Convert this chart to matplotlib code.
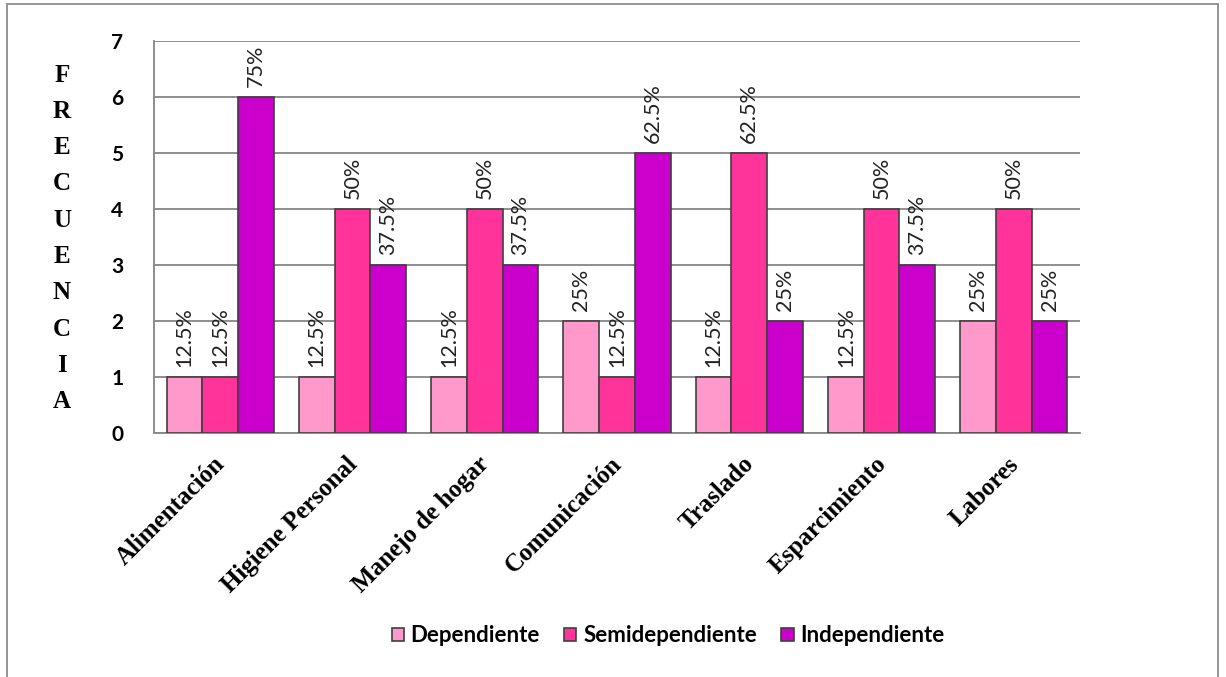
import matplotlib
matplotlib.use("Agg")
import matplotlib.pyplot as plt
import matplotlib.transforms as mtransforms
import numpy as np
from matplotlib.patches import Rectangle

categorias = ["Alimentación", "Higiene Personal", "Manejo de hogar", "Comunicación",
              "Traslado", "Esparcimiento", "Labores"]
series = ["Dependiente", "Semidependiente", "Independiente"]
dependiente = [1, 1, 1, 2, 1, 1, 2]
semidependiente = [1, 4, 4, 1, 5, 4, 4]
independiente = [6, 3, 3, 5, 2, 3, 2]
total = 8  # personas por actividad

colores = ["#FF99CC", "#FF3399", "#CC00CC"]
BORDE = "#404040"
GRID = "#868686"
SERIF = ["Liberation Serif", "DejaVu Serif"]
SANS = ["Lato", "DejaVu Sans"]

fig = plt.figure(figsize=(12.26, 6.77), dpi=100)
ax = fig.add_axes([0.1256, 0.3604, 0.7553, 0.5790])

x = np.arange(len(categorias))
ancho = 0.27
for i, (nombre, vals, col) in enumerate(zip(series, [dependiente, semidependiente, independiente], colores)):
    xs = x + (i - 1) * ancho
    ax.bar(xs, vals, ancho, color=col, edgecolor=BORDE, linewidth=1.2,
           label=nombre, zorder=3)
    for xb, v in zip(xs, vals):
        pct = v / total * 100
        ax.annotate(f"{pct:g}%", (xb, v), xytext=(0, 7), textcoords="offset points",
                    rotation=90, ha="center", va="bottom", fontsize=15.5,
                    family=SANS, color="#222222")

ax.set_xlim(-0.5, len(categorias) - 0.5)
ax.set_ylim(0, 7)
ax.set_yticks(range(0, 8))
ax.yaxis.grid(True, color=GRID, linewidth=1.3, zorder=0)
ax.set_axisbelow(True)
for s in ["top", "right"]:
    ax.spines[s].set_visible(False)
for s in ["left", "bottom"]:
    ax.spines[s].set_color(GRID)
    ax.spines[s].set_linewidth(1.3)
ax.tick_params(axis="both", length=0)
ax.tick_params(axis="y", pad=22)
for t in ax.get_yticklabels():
    t.set_fontfamily(SANS)
    t.set_fontweight("bold")
    t.set_fontsize(15)

ax.set_xticks(x)
ax.set_xticklabels(categorias, rotation=45, ha="right", va="top",
                   rotation_mode="anchor", family=SERIF, fontweight="bold", fontsize=18)
ax.tick_params(axis="x", pad=14)
desplazar = mtransforms.ScaledTranslation(-7 / 100, 0, fig.dpi_scale_trans)
for t in ax.get_xticklabels():
    t.set_transform(t.get_transform() + desplazar)

# etiqueta del eje Y en letras apiladas
for k, letra in enumerate("FRECUENCIA"):
    fig.text(62 / 1226, 1 - (75 + k * 36.3) / 677, letra, ha="center", va="center",
             family=SERIF, fontweight="bold", fontsize=18)

ax.legend(loc="center", bbox_to_anchor=(668 / 1226, 1 - 636 / 677), bbox_transform=fig.transFigure,
          ncol=3, frameon=False, handlelength=0.55, handleheight=0.55,
          handletextpad=0.3, columnspacing=1.1,
          prop={"family": SANS, "weight": "bold", "size": 16})

# marco exterior del gráfico
fig.add_artist(Rectangle((7 / 1226, -0.05), (1218 - 7) / 1226, 1 - 4 / 677 + 0.05,
                         transform=fig.transFigure, fill=False, edgecolor="#8c8c8c",
                         linewidth=1.3))

fig.savefig("out.png", dpi=100)
